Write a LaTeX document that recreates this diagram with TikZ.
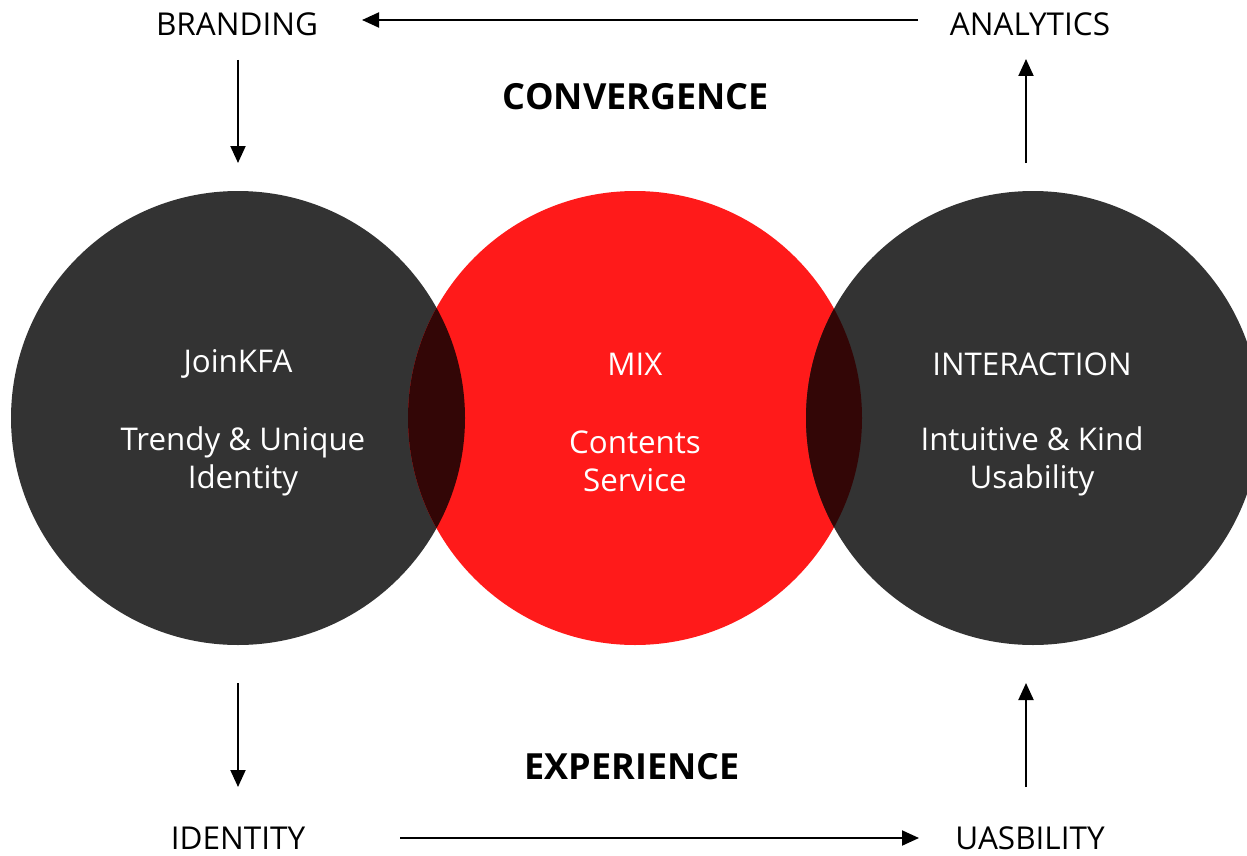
\documentclass[tikz,border=0pt]{standalone}
\usepackage{fontspec}
\setmainfont{Open Sans}
\usetikzlibrary{arrows.meta}
\definecolor{darkc}{HTML}{333333}
\definecolor{redc}{HTML}{FF1A1A}
\definecolor{overc}{HTML}{330606}
\tikzset{
  lbl/.style={font=\fontsize{31.5}{36}\selectfont, text=black, inner sep=0pt},
  head/.style={font=\bfseries\fontsize{36}{40}\selectfont, text=black, inner sep=0pt},
  intext/.style={font=\fontsize{31.3}{38}\selectfont, text=white, align=center, inner sep=0pt},
  arr/.style={line width=2pt, -{Triangle[length=17pt,width=15pt]}},
}
\begin{document}
\begin{tikzpicture}[x=1pt,y=-1pt]
\useasboundingbox (0,0) rectangle (1247,856);
% circles
\fill[darkc] (238,418) circle (227);
\fill[redc] (635,418) circle (227);
\fill[darkc] (1033,418) circle (227);
\begin{scope}
  \clip (238,418) circle (227);
  \fill[overc] (635,418) circle (227);
\end{scope}
\begin{scope}
  \clip (1033,418) circle (227);
  \fill[overc] (635,418) circle (227);
\end{scope}
% circle texts
\node[intext] (j1) at (238,364) {JoinKFA};
\node[intext] (j2) at (243,461) {Trendy \& Unique\\Identity};
\node[intext] (m1) at (635,364) {MIX};
\node[intext] (m2) at (635,461) {Contents\\Service};
\node[intext] (i1) at (1032,364) {INTERACTION};
\node[intext] (i2) at (1032,461) {Intuitive \& Kind\\Usability};
% labels
\node[lbl] (brand) at (237,24) {BRANDING};
\node[lbl] (anal) at (1030,24) {ANALYTICS};
\node[lbl] (ident) at (238,838) {IDENTITY};
\node[lbl] (usab) at (1030,838) {UASBILITY};
\node[head] (conv) at (636,97) {CONVERGENCE};
\node[head] (exp) at (632,767) {EXPERIENCE};
% arrow endpoints
\coordinate (ta) at (918,20);
\coordinate (tb) at (362,20);
\coordinate (la) at (238,60);
\coordinate (lb) at (238,163);
\coordinate (ra) at (1026,163);
\coordinate (rb) at (1026,59);
\coordinate (bla) at (238,683);
\coordinate (blb) at (238,787);
\coordinate (bra) at (1026,787);
\coordinate (brb) at (1026,683);
\coordinate (ba) at (400,838);
\coordinate (bb) at (919,838);
\draw[arr] (ta) -- (tb);
\draw[arr] (la) -- (lb);
\draw[arr] (ra) -- (rb);
\draw[arr] (bla) -- (blb);
\draw[arr] (bra) -- (brb);
\draw[arr] (ba) -- (bb);
\end{tikzpicture}
\end{document}
